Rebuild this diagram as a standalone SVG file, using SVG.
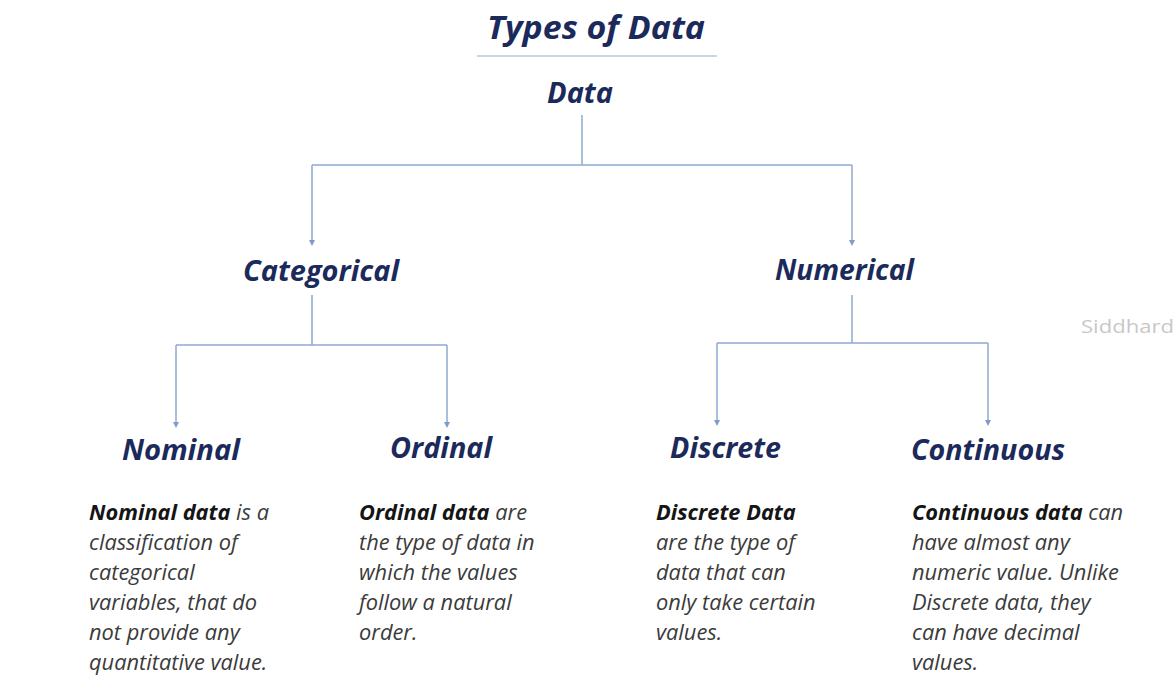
<svg xmlns="http://www.w3.org/2000/svg" width="1175" height="693" viewBox="0 0 1175 693">
<defs>
<style>
.h{font-family:"Open Sans","Liberation Sans",sans-serif;font-weight:bold;font-style:italic;fill:#1b2a5a;}
.t{font-family:"Open Sans","Liberation Sans",sans-serif;font-style:italic;font-size:21.8px;fill:#3b3b3b;}
.b{font-weight:bold;fill:#151515;}
.c{fill:none;stroke:#8eaad3;stroke-width:1.5;}
</style>
<marker id="ah" viewBox="0 0 10 10" refX="5" refY="5" markerWidth="6" markerHeight="6" markerUnits="userSpaceOnUse" orient="auto">
<path d="M0,0 L10,5 L0,10 z" fill="#7f9cc7"/>
</marker>
</defs>
<rect width="1175" height="693" fill="#ffffff"/>
<g id="title">
<text class="h" x="487" y="39" font-size="32" textLength="218" lengthAdjust="spacingAndGlyphs">Types of Data</text>
<line x1="477" y1="56" x2="717" y2="56" stroke="#b9c7dd" stroke-width="1.5"/>
</g>
<g id="connectors">
<path class="c" d="M582,115 V165 M312,165 H852 M312,165 V243" marker-end="url(#ah)"/>
<path class="c" d="M852,165 V243" marker-end="url(#ah)"/>
<path class="c" d="M312,295 V345 M176,345 H447 M176,345 V425" marker-end="url(#ah)"/>
<path class="c" d="M447,345 V425" marker-end="url(#ah)"/>
<path class="c" d="M852,295 V343 M717,343 H988 M717,343 V423" marker-end="url(#ah)"/>
<path class="c" d="M988,343 V423" marker-end="url(#ah)"/>
</g>
<g id="node-data"><text class="h" x="547" y="103" font-size="29" textLength="66" lengthAdjust="spacingAndGlyphs">Data</text></g>
<g id="node-categorical"><text class="h" x="243" y="281" font-size="29" textLength="156" lengthAdjust="spacingAndGlyphs">Categorical</text></g>
<g id="node-numerical"><text class="h" x="775" y="280" font-size="29" textLength="139" lengthAdjust="spacingAndGlyphs">Numerical</text></g>
<g id="node-nominal">
<text class="h" x="122" y="460" font-size="29" textLength="118" lengthAdjust="spacingAndGlyphs">Nominal</text>
<text class="t" x="89" y="520"><tspan class="b">Nominal data</tspan> is a</text>
<text class="t" x="89" y="550">classification of</text>
<text class="t" x="89" y="580">categorical</text>
<text class="t" x="89" y="610">variables, that do</text>
<text class="t" x="89" y="640">not provide any</text>
<text class="t" x="89" y="670">quantitative value.</text>
</g>
<g id="node-ordinal">
<text class="h" x="390" y="458" font-size="29" textLength="102" lengthAdjust="spacingAndGlyphs">Ordinal</text>
<text class="t" x="359" y="520"><tspan class="b">Ordinal data</tspan> are</text>
<text class="t" x="359" y="550">the type of data in</text>
<text class="t" x="359" y="580">which the values</text>
<text class="t" x="359" y="610">follow a natural</text>
<text class="t" x="359" y="640">order.</text>
</g>
<g id="node-discrete">
<text class="h" x="670" y="458" font-size="29" textLength="111" lengthAdjust="spacingAndGlyphs">Discrete</text>
<text class="t" x="656" y="520"><tspan class="b">Discrete Data</tspan></text>
<text class="t" x="656" y="550">are the type of</text>
<text class="t" x="656" y="580">data that can</text>
<text class="t" x="656" y="610">only take certain</text>
<text class="t" x="656" y="640">values.</text>
</g>
<g id="node-continuous">
<text class="h" x="911" y="460" font-size="29" textLength="154" lengthAdjust="spacingAndGlyphs">Continuous</text>
<text class="t" x="912" y="520"><tspan class="b">Continuous data</tspan> can</text>
<text class="t" x="912" y="550">have almost any</text>
<text class="t" x="912" y="580">numeric value. Unlike</text>
<text class="t" x="912" y="610">Discrete data, they</text>
<text class="t" x="912" y="640">can have decimal</text>
<text class="t" x="912" y="670">values.</text>
</g>
<text x="1081" y="333" font-family="'Open Sans',sans-serif" font-size="18" fill="#c8c8c8" textLength="93" lengthAdjust="spacingAndGlyphs">Siddhard</text>
</svg>
